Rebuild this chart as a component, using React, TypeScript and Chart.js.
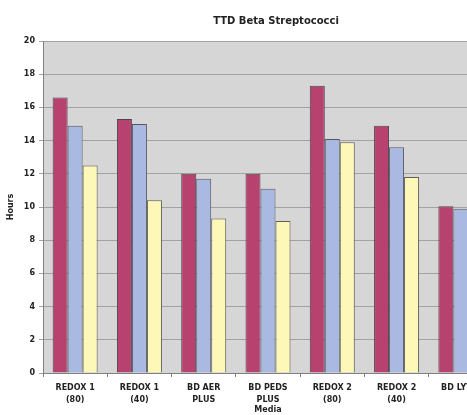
import { useEffect, useRef } from "react";
import { Chart, registerables } from "chart.js";

Chart.register(...registerables);

// Media (x categories), two-line labels
const categories: string[][] = [
  ["REDOX 1", "(80)"],
  ["REDOX 1", "(40)"],
  ["BD AER", "PLUS"],
  ["BD PEDS", "PLUS"],
  ["REDOX 2", "(80)"],
  ["REDOX 2", "(40)"],
  ["BD LYTIC"],
];

// Time to detection, hours
const seriesRose: (number | null)[] = [16.6, 15.3, 12.0, 12.0, 17.3, 14.9, 10.05];
const seriesBlue: (number | null)[] = [14.9, 15.0, 11.7, 11.1, 14.1, 13.6, 9.9];
const seriesCream: (number | null)[] = [12.5, 10.4, 9.3, 9.15, 13.9, 11.8, null];

const yTicks = { min: 0, max: 20, step: 2 };

const chartTitle = "TTD Beta Streptococci";

const FONT = "'DejaVu Sans', sans-serif";

// Grey plot area on a white page, plus the heading centred over the full
// chart frame (which runs past the visible window on the right).
const frame = {
  id: "frame",
  beforeDraw(chart: Chart) {
    const { ctx, chartArea, width, height } = chart;
    ctx.save();
    ctx.fillStyle = "#ffffff";
    ctx.fillRect(0, 0, width, height);
    ctx.fillStyle = "#d6d6d6";
    ctx.fillRect(chartArea.left, chartArea.top, chartArea.right - chartArea.left, chartArea.bottom - chartArea.top);
    ctx.fillStyle = "#222222";
    ctx.font = `bold 10px ${FONT}`;
    ctx.textAlign = "center";
    ctx.textBaseline = "middle";
    ctx.fillText(chartTitle, 276, 21);
    ctx.restore();
  },
};

export default function App() {
  const ref = useRef<HTMLCanvasElement | null>(null);

  useEffect(() => {
    if (!ref.current) return;
    const chart = new Chart(ref.current, {
      type: "bar",
      data: {
        labels: categories,
        datasets: [
          { label: "Series 1", data: seriesRose, backgroundColor: "#b7416f", borderColor: "#4e4448", borderWidth: 1 },
          { label: "Series 2", data: seriesBlue, backgroundColor: "#a9b9e2", borderColor: "#55555f", borderWidth: 1 },
          { label: "Series 3", data: seriesCream, backgroundColor: "#fdf8b8", borderColor: "#5f5d55", borderWidth: 1 },
        ],
      },
      plugins: [frame],
      options: {
        responsive: false,
        animation: false,
        layout: { padding: { left: 0, right: 27, top: 41, bottom: 0 } },
        datasets: { bar: { categoryPercentage: 0.7, barPercentage: 1.0 } },
        plugins: {
          legend: { display: false },
          tooltip: { enabled: false },
          title: { display: false },
        },
        scales: {
          x: {
            afterFit: (s: any) => { s.height = 42; },
            grid: { display: true, drawOnChartArea: false, offset: true, tickLength: 4, color: "#808080" },
            border: { color: "#808080" },
            ticks: {
              color: "#222222",
              font: { family: FONT, size: 8, weight: "bold", lineHeight: 1.5 },
              padding: 5,
              maxRotation: 0,
              autoSkip: false,
            },
            title: {
              display: true,
              text: "Media",
              color: "#222222",
              font: { family: FONT, size: 8, weight: "bold" },
              padding: { top: 0, bottom: 0 },
            },
          },
          y: {
            min: yTicks.min,
            max: yTicks.max,
            afterFit: (s: any) => { s.width = 43; },
            grid: { color: "#a2a2a2", tickLength: 4 },
            border: { color: "#808080" },
            ticks: {
              stepSize: yTicks.step,
              color: "#222222",
              font: { family: FONT, size: 8, weight: "bold" },
              padding: 4,
            },
            title: {
              display: true,
              text: "Hours",
              color: "#222222",
              font: { family: FONT, size: 8, weight: "bold" },
              padding: { top: 6, bottom: 0 },
            },
          },
        },
      },
    });
    return () => chart.destroy();
  }, []);

  return (
    <div style={{ position: "fixed", left: 0, top: 0, width: 467, height: 415, overflow: "hidden", background: "#ffffff" }}>
      <canvas ref={ref} width={520} height={415} style={{ display: "block", width: 520, height: 415 }} />
    </div>
  );
}
